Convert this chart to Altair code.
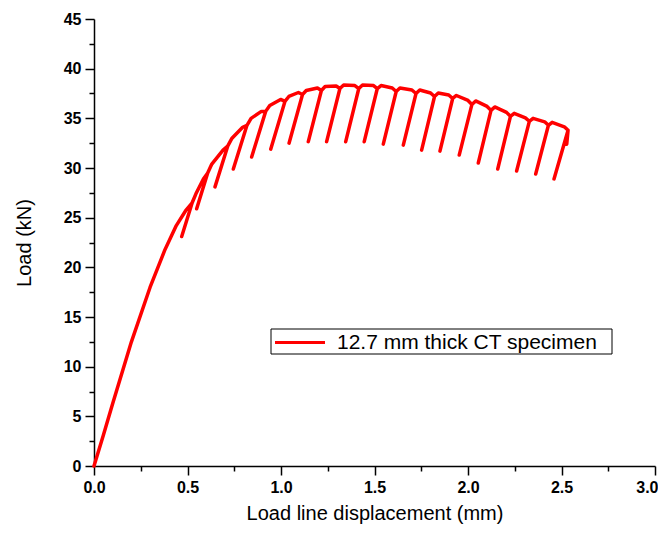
import altair as alt
import pandas as pd

# initial loading curve (displacement mm, load kN)
init_x = [0.0, 0.05, 0.10, 0.20, 0.30, 0.38, 0.44, 0.49]
init_y = [0.0, 3.1, 6.3, 12.5, 18.0, 21.8, 24.2, 25.7]

# unloading start points (peaks of each cycle)
top_x = [0.525, 0.608, 0.715, 0.818, 0.918, 1.021, 1.115, 1.216, 1.315, 1.416, 1.515,
         1.616, 1.722, 1.821, 1.918, 2.021, 2.123, 2.227, 2.328, 2.430, 2.535]
top_y = [26.5, 29.5, 32.2, 34.3, 35.7, 36.7, 37.4, 37.8, 38.0, 38.0, 38.0,
         37.7, 37.5, 37.2, 37.0, 36.4, 35.8, 35.2, 34.7, 34.3, 33.8]

# lowest points of each partial unloading
bot_x = [0.469, 0.549, 0.647, 0.745, 0.843, 0.945, 1.043, 1.146, 1.244, 1.346, 1.445,
         1.547, 1.654, 1.752, 1.850, 1.953, 2.055, 2.159, 2.260, 2.362, 2.460]
bot_y = [23.1, 25.9, 28.1, 29.9, 31.1, 31.9, 32.5, 32.65, 32.65, 32.65, 32.65,
         32.4, 32.3, 31.8, 31.7, 31.3, 30.5, 29.9, 29.7, 29.4, 28.9]

# reloading shoulder (rounded left part of each arch)
sh1_x = [0.545, 0.630, 0.738, 0.840, 0.940, 1.042, 1.135, 1.236, 1.335, 1.436,
         1.535, 1.636, 1.742, 1.841, 1.938, 2.041, 2.143, 2.247, 2.348, 2.450]
sh1_y = [27.4, 30.4, 33.0, 35.0, 36.3, 37.2, 37.8, 38.2, 38.35, 38.35,
         38.3, 38.05, 37.85, 37.55, 37.3, 36.75, 36.15, 35.5, 35.0, 34.6]

# envelope point just before the next unloading
sh2_x = [0.585, 0.690, 0.795, 0.895, 0.998, 1.093, 1.195, 1.295, 1.395, 1.495,
         1.595, 1.700, 1.800, 1.897, 2.000, 2.102, 2.206, 2.307, 2.410, 2.515]
sh2_y = [28.9, 31.8, 34.1, 35.7, 36.9, 37.6, 38.05, 38.25, 38.3, 38.3,
         38.05, 37.85, 37.55, 37.35, 36.8, 36.2, 35.6, 35.05, 34.65, 34.15]

end_x = [2.528]
end_y = [32.4]

series_name = "12.7 mm thick CT specimen"

x_major = [0.0, 0.5, 1.0, 1.5, 2.0, 2.5, 3.0]
x_minor = [0.25, 0.75, 1.25, 1.75, 2.25, 2.75]
y_major = [0, 5, 10, 15, 20, 25, 30, 35, 40, 45]
y_minor = [2.5, 7.5, 12.5, 17.5, 22.5, 27.5, 32.5, 37.5, 42.5]

px, py = list(init_x), list(init_y)
for i in range(len(top_x)):
    px += [top_x[i], bot_x[i], top_x[i]]
    py += [top_y[i], bot_y[i], top_y[i]]
    if i < len(sh1_x):
        px += [sh1_x[i], sh2_x[i]]
        py += [sh1_y[i], sh2_y[i]]
px += end_x
py += end_y

df = pd.DataFrame({"x": px, "y": py, "order": list(range(len(px)))})
legend_df = pd.DataFrame({"series": [series_name]})

FONT = "Liberation Sans"
RED = "#ff0000"
xs = alt.Scale(domain=[0, 3], nice=False, zero=False)
ys = alt.Scale(domain=[0, 45], nice=False)

x_axis = alt.Axis(
    values=x_major, format=".1f", orient="bottom",
    tickSize=9, labelFont=FONT, labelFontSize=16, labelFontWeight="bold", labelColor="black",
    labelPadding=4, labelOverlap=False, labelFlush=False,
    labelAlign={"condition": {"test": "datum.value >= 3", "value": "right"}, "value": "center"},
    labelOffset={"condition": {"test": "datum.value >= 3", "value": 3}, "value": 0},
    title="Load line displacement (mm)", titleFont=FONT, titleFontSize=20,
    titleFontWeight="normal", titleColor="black", titlePadding=8,
    domainColor="black", domainWidth=1.5, tickColor="black", tickWidth=1.5,
    grid=False,
)
y_axis = alt.Axis(
    values=y_major, format="d", orient="left",
    tickSize=9, labelFont=FONT, labelFontSize=16, labelFontWeight="bold", labelColor="black",
    labelPadding=4, labelOverlap=False, labelFlush=False,
    title="Load (kN)", titleFont=FONT, titleFontSize=20,
    titleFontWeight="normal", titleColor="black", titlePadding=29,
    domainColor="black", domainWidth=1.5, tickColor="black", tickWidth=1.5,
    grid=False,
)
x_minor_axis = alt.Axis(
    values=x_minor, orient="bottom", tickSize=5, labels=False, title=None,
    domain=False, tickColor="black", tickWidth=1.5, grid=False,
)
y_minor_axis = alt.Axis(
    values=y_minor, orient="left", tickSize=5, labels=False, title=None,
    domain=False, tickColor="black", tickWidth=1.5, grid=False,
)

main = alt.Chart(df).mark_line(
    strokeWidth=3.5, strokeJoin="round", strokeCap="round", color=RED
).encode(
    x=alt.X("x:Q", scale=xs, axis=x_axis),
    y=alt.Y("y:Q", scale=ys, axis=y_axis),
    order="order:Q",
)

minor = alt.Chart(df).mark_point(opacity=0).encode(
    x=alt.X("x:Q", scale=xs, axis=x_minor_axis),
    y=alt.Y("y:Q", scale=ys, axis=y_minor_axis),
)

# legend drawn as a boxed key
leg_box = alt.Chart(legend_df).mark_rect(
    fill="white", stroke="black", strokeWidth=1
).encode(
    x=alt.value(177), x2=alt.value(518), y=alt.value(310), y2=alt.value(335)
)
leg_line = alt.Chart(legend_df).mark_rule(color=RED, strokeWidth=3).encode(
    x=alt.value(181), x2=alt.value(231), y=alt.value(323.5)
)
leg_text = alt.Chart(legend_df).mark_text(
    align="left", baseline="middle", font=FONT, fontSize=21, color="black"
).encode(
    x=alt.value(243), y=alt.value(323.5), text="series:N"
)

chart = alt.layer(main, minor, leg_box, leg_line, leg_text).resolve_axis(
    x="independent", y="independent"
).properties(
    width=561, height=447,
    autosize=alt.AutoSizeParams(type="none"),
    padding={"left": 86, "top": 11, "right": 3, "bottom": 62},
).configure_view(stroke=None)

chart.save("out.html", embed_options={"renderer": "svg", "actions": False})
